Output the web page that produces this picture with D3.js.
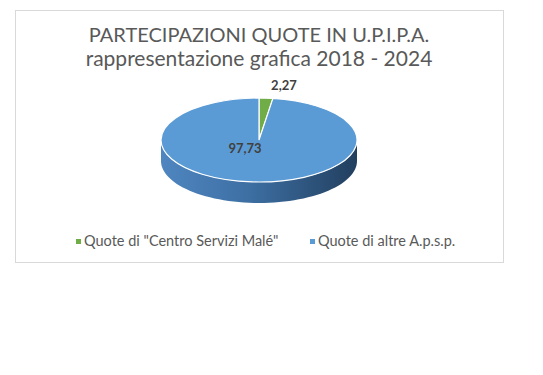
<!DOCTYPE html>
<html>
<head>
<meta charset="utf-8">
<script src="https://cdn.jsdelivr.net/npm/d3@7"></script>
<style>
  body { margin: 0; background: #fff; }
  svg { display: block; }
  text { font-family: Lato, "Open Sans", sans-serif; }
</style>
</head>
<body>
<div id="chart"></div>
<script>
// data
var categories = ['Quote di "Centro Servizi Malé"', 'Quote di altre A.p.s.p.'];
var values = [2.27, 97.73];
var valueLabels = ['2,27', '97,73'];
var titleLines = ['PARTECIPAZIONI QUOTE IN U.P.I.P.A.', 'rappresentazione grafica 2018 - 2024'];

var width = 543, height = 375;

var svg = d3.select('#chart')
	.append('svg')
	.attr('width', width)
	.attr('height', height);

// chart frame
svg.append('rect')
	.attr('x', 15.5).attr('y', 10.5)
	.attr('width', 488).attr('height', 252)
	.attr('fill', '#fff')
	.attr('stroke', '#d9d9d9');

// title
svg.selectAll('.title')
	.data(titleLines)
	.enter()
	.append('text')
	.attr('class', 'title')
	.attr('x', 259)
	.attr('y', function(d, i) { return 42 + i * 24; })
	.attr('text-anchor', 'middle')
	.attr('fill', '#595959')
	.style('font-size', function(d, i) { return i === 0 ? '20px' : '21px'; })
	.text(function(d) { return d; });

var color = d3.scaleOrdinal()
	.domain(categories)
	.range(['#70AD47', '#5B9BD5']);

var sideColor = d3.scaleOrdinal()
	.domain(categories)
	.range(['#4b7f31', 'url(#sideGrad)']);

var defs = svg.append('defs');
var grad = defs.append('linearGradient')
	.attr('id', 'sideGrad')
	.attr('x1', '0%').attr('x2', '100%')
	.attr('y1', '0%').attr('y2', '0%');
grad.append('stop').attr('offset', '0%').attr('stop-color', '#4f86c0');
grad.append('stop').attr('offset', '45%').attr('stop-color', '#3d6fa3');
grad.append('stop').attr('offset', '100%').attr('stop-color', '#223f5e');

var cx = 259, cy = 140;
var rx = 98, ry = 42, depth = 21;

var pie = d3.pie()
	.value(function(d) { return d.value; })
	.sort(null);

var slices = pie(categories.map(function(c, i) { return { label: c, value: values[i], text: valueLabels[i] }; }));

var g = svg.append('g')
	.attr('transform', 'translate(' + cx + ',' + cy + ')');

function pt(a, dy) {
	return [rx * Math.sin(a), -ry * Math.cos(a) + dy];
}

// side walls (front half only)
var line = d3.line();
slices.forEach(function(d) {
	var s = Math.max(d.startAngle, Math.PI / 2);
	var e = Math.min(d.endAngle, 3 * Math.PI / 2);
	if (e <= s) return;
	var n = 60, top = [], bot = [];
	for (var k = 0; k <= n; k++) {
		var a = s + (e - s) * k / n;
		top.push(pt(a, 0));
		bot.push(pt(a, depth));
	}
	g.append('path')
		.attr('d', line(top.concat(bot.reverse())) + 'Z')
		.attr('fill', sideColor(d.data.label));
});

// top surface
var arc = d3.arc()
	.outerRadius(rx)
	.innerRadius(0);

g.append('g')
	.attr('transform', 'scale(1,' + (ry / rx) + ')')
	.selectAll('path')
	.data(slices)
	.enter()
	.append('path')
	.attr('d', arc)
	.attr('fill', function(d) { return color(d.data.label); })
	.attr('stroke', '#fff')
	.attr('stroke-width', 1.2)
	.attr('vector-effect', 'non-scaling-stroke');

// value labels
g.selectAll('.vlabel')
	.data(slices)
	.enter()
	.append('text')
	.attr('class', 'vlabel')
	.attr('text-anchor', 'middle')
	.attr('x', function(d, i) { return i === 0 ? pt(d.endAngle, 0)[0] + 11 : -14; })
	.attr('y', function(d, i) { return i === 0 ? -ry - 8 : 13; })
	.attr('fill', '#404040')
	.style('font-size', '13px')
	.style('font-weight', 'bold')
	.text(function(d) { return d.data.text; });

// legend
var legendX = [76, 310];
var legend = svg.selectAll('.legend')
	.data(categories)
	.enter()
	.append('g')
	.attr('class', 'legend')
	.attr('transform', function(d, i) { return 'translate(' + legendX[i] + ',246)'; });

legend.append('rect')
	.attr('x', 0).attr('y', -7)
	.attr('width', 5).attr('height', 5)
	.attr('fill', color);

legend.append('text')
	.attr('x', 8)
	.attr('y', 0)
	.attr('fill', '#595959')
	.style('font-size', '14.5px')
	.text(function(d) { return d; });
</script>
</body>
</html>
